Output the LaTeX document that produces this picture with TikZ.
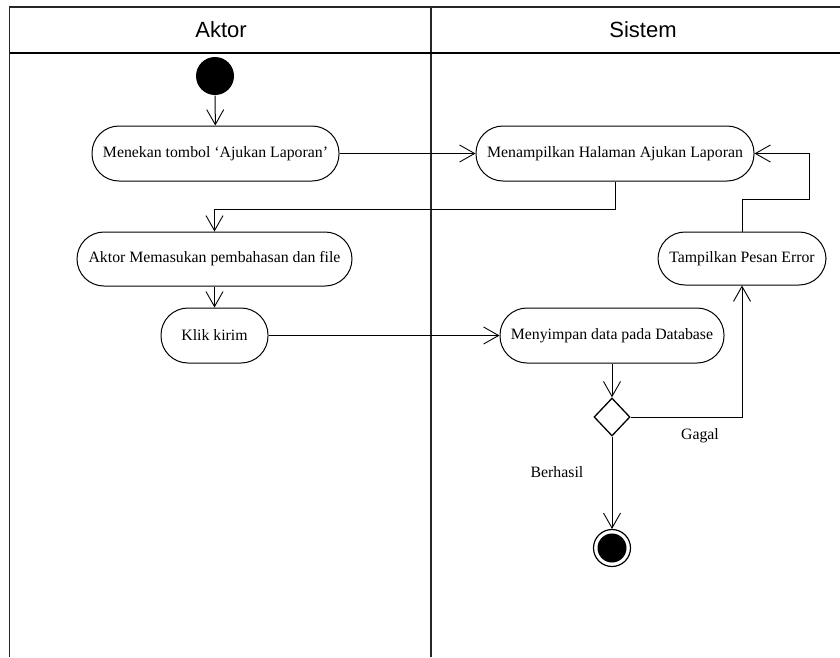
\documentclass[tikz,border=0pt]{standalone}
\usepackage{fontspec}
\setmainfont{Liberation Serif}
\newfontfamily\headfont{Liberation Sans}
\usetikzlibrary{arrows.meta,shapes.geometric}
\begin{document}
\begin{tikzpicture}[x=1pt,y=-1pt,
  line width=1pt,
  act/.style={draw, rectangle, rounded corners=27pt, inner sep=0pt,
    font=\fontsize{15.8}{18}\selectfont},
  lane/.style={line width=1.4pt, draw=black!85},
  flow/.style={-{Straight Barb[length=15pt,width=17pt,line width=0.9pt]}},
  lbl/.style={font=\fontsize{15.8}{18}\selectfont},
  head/.style={font=\headfont\fontsize{22}{26}\selectfont}]
\useasboundingbox (0,0) rectangle (840,657);
\fill[white] (0,0) rectangle (840,657);

% swimlanes
\draw[lane] (840,7) -- (9.5,7) -- (9.5,657);
\draw[lane] (431,7) -- (431,657);
\draw[line width=1.1pt] (9.5,53) -- (840,53);
\node[head] (hA) at (221,30) {Aktor};
\node[head] (hS) at (643,30) {Sistem};

% nodes
\node[circle, fill=black, minimum width=36pt, minimum height=38pt, inner sep=0pt] (start) at (215,76) {};
\node[act, minimum width=247pt, minimum height=55pt] (a1) at (215.5,153.5) {Menekan tombol `Ajukan Laporan'};
\node[act, minimum width=278pt, minimum height=55pt] (s1) at (615,153.5) {Menampilkan Halaman Ajukan Laporan};
\node[act, minimum width=275pt, minimum height=54pt] (a2) at (214.5,259) {Aktor Memasukan pembahasan dan file};
\node[act, minimum width=168pt, minimum height=53pt] (s2) at (742,258.5) {Tampilkan Pesan Error};
\node[act, minimum width=107pt, minimum height=55pt] (a3) at (214.5,335.5) {Klik kirim};
\node[act, minimum width=224pt, minimum height=55pt] (s3) at (612,335.5) {Menyimpan data pada Database};
\node[draw, diamond, minimum width=36pt, minimum height=38pt, inner sep=0pt, line width=1.3pt] (dec) at (612,417) {};
\node[draw, circle, minimum size=37pt, inner sep=0pt, line width=1.2pt] (end) at (612,548) {};
\fill (end.center) circle[radius=14.5pt];

% labels
\node[lbl] (gagal) at (700,436) {Gagal};
\node[lbl] (berhasil) at (557,472) {Berhasil};

% bend of the error loop
\coordinate (loop) at (809,199);

% connectors
\draw[flow] (start) -- (a1);
\draw[flow] (a1) -- (s1);
\draw[flow] (s1.south) -- ++(0,28) -| (a2.north);
\draw[flow] (a2) -- (a3);
\draw[flow] (a3) -- (s3);
\draw[flow] (s3) -- (dec);
\draw[flow] (dec.east) -| (s2.south);
\draw[flow] (s2.north) |- (loop) |- (s1.east);
\draw[flow] (dec.south) -- (end.north);
\end{tikzpicture}
\end{document}
